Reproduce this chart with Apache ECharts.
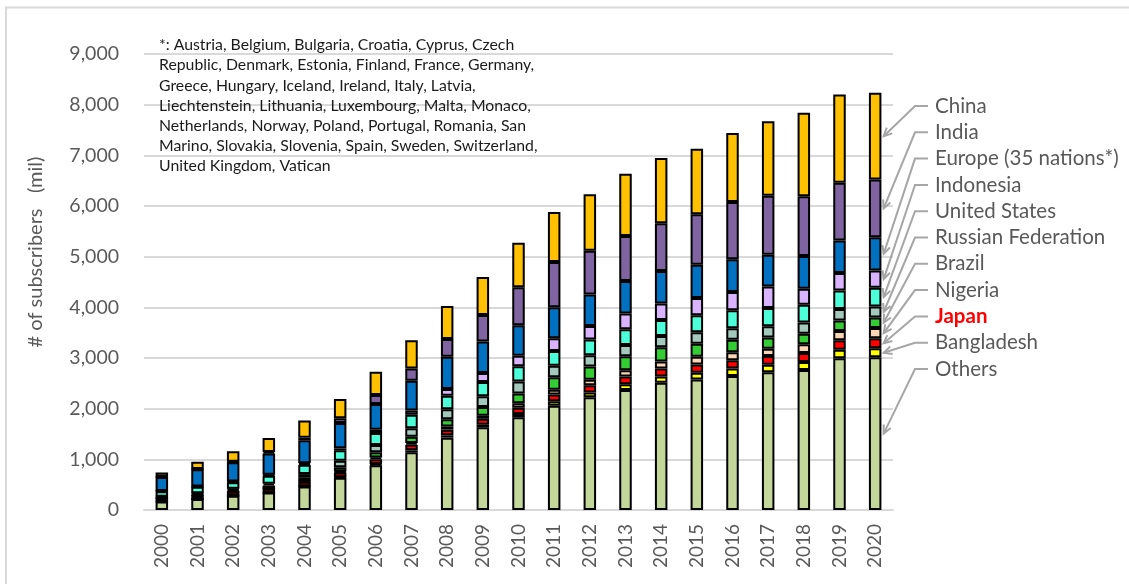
<!DOCTYPE html>
<html>
<head>
<meta charset="utf-8">
<script src="https://cdn.jsdelivr.net/npm/echarts@6/dist/echarts.min.js"></script>
<style>
  html, body { margin: 0; padding: 0; background: #fff; }
  #chart { width: 1129px; height: 584px; }
</style>
</head>
<body>
<div id="chart"></div>
<script>
// ---- data (million subscribers) ----
const years = ['2000', '2001', '2002', '2003', '2004', '2005', '2006', '2007', '2008', '2009', '2010',
  '2011', '2012', '2013', '2014', '2015', '2016', '2017', '2018', '2019', '2020'];

const others     = [170, 216, 282, 347, 465, 635, 884, 1138, 1428, 1632, 1829, 2059, 2224, 2368, 2513, 2577, 2643, 2721, 2761, 2997, 3016];
const bangladesh = [0.3, 0.5, 1, 1.4, 4, 9, 19, 40, 46, 52, 68, 85, 97, 115, 121, 131, 150, 145, 160, 166, 176];
const japan      = [67, 75, 80, 86, 91, 95, 101, 110, 112, 116, 121, 135, 141, 150, 158, 165, 164, 172, 180, 186, 196];
const nigeria    = [0.03, 0.9, 2, 3, 9, 19, 30, 35, 63, 62, 87, 95, 110, 125, 139, 151, 158, 145, 170, 184, 205];
const brazil     = [23, 29, 35, 46, 66, 86, 105, 125, 140, 170, 196, 244, 262, 275, 280, 257, 244, 223, 207, 207, 205];
const russia     = [3, 8, 18, 36, 74, 126, 145, 165, 200, 215, 235, 230, 220, 222, 221, 227, 227, 220, 225, 229, 220];
const usa        = [109, 128, 131, 157, 182, 207, 235, 265, 265, 280, 300, 290, 310, 310, 320, 335, 354, 361, 347, 361, 367];
const indonesia  = [4, 6, 12, 18, 30, 40, 64, 85, 135, 175, 210, 250, 270, 315, 325, 340, 361, 426, 315, 347, 341];
const europe     = [275, 340, 380, 420, 455, 500, 510, 590, 638, 625, 600, 615, 620, 640, 640, 655, 649, 623, 649, 643, 656];
const india      = [4, 6, 13, 30, 48, 95, 175, 240, 349, 520, 752, 894, 865, 887, 944, 1001, 1127, 1168, 1176, 1141, 1141];
const china      = [85, 145, 206, 275, 340, 380, 460, 555, 651, 750, 875, 986, 1112, 1229, 1286, 1292, 1364, 1470, 1649, 1738, 1711];

const yTicks = { min: 0, max: 9000, interval: 1000 };

// bottom → top of the stack
const stackOrder = [
  { name: 'Others', data: others, color: '#c4d79b' },
  { name: 'Bangladesh', data: bangladesh, color: '#ffff00' },
  { name: 'Japan', data: japan, color: '#ff0000' },
  { name: 'Nigeria', data: nigeria, color: '#fcd5b4' },
  { name: 'Brazil', data: brazil, color: '#33cc33' },
  { name: 'Russian Federation', data: russia, color: '#a3c9bd' },
  { name: 'United States', data: usa, color: '#4dffd8' },
  { name: 'Indonesia', data: indonesia, color: '#dab3ff' },
  { name: 'Europe (35 nations*)', data: europe, color: '#0070c0' },
  { name: 'India', data: india, color: '#8064a2' },
  { name: 'China', data: china, color: '#ffc000' },
];

const footnote = [
  '*: Austria, Belgium, Bulgaria, Croatia, Cyprus, Czech',
  'Republic, Denmark, Estonia, Finland, France, Germany,',
  'Greece, Hungary, Iceland, Ireland, Italy, Latvia,',
  'Liechtenstein, Lithuania, Luxembourg, Malta, Monaco,',
  'Netherlands, Norway, Poland, Portugal, Romania, San',
  'Marino, Slovakia, Slovenia, Spain, Sweden, Switzerland,',
  'United Kingdom, Vatican',
];

const FONT = 'Lato, "Liberation Sans", sans-serif';
const GREY_TXT = '#595959';
const ARROW = '#a6a6a6';

// ---- chart ----
const chart = echarts.init(document.getElementById('chart'), null, { renderer: 'canvas' });

chart.setOption({
  backgroundColor: '#fff',
  animation: false,
  grid: { left: 144, right: 236, top: 54, bottom: 74, containLabel: false },
  xAxis: {
    type: 'category',
    data: years,
    axisLine: { lineStyle: { color: '#d9d9d9', width: 2 } },
    axisTick: { show: false },
    axisLabel: { rotate: 90, color: GREY_TXT, fontFamily: FONT, fontSize: 19, margin: 14 },
  },
  yAxis: {
    type: 'value',
    min: yTicks.min,
    max: yTicks.max,
    interval: yTicks.interval,
    axisLine: { show: false },
    axisTick: { show: false },
    splitLine: { lineStyle: { color: '#d9d9d9', width: 2 } },
    axisLabel: {
      color: GREY_TXT, fontFamily: FONT, fontSize: 19.5, margin: 25,
      formatter: (v) => v.toLocaleString('en-US'),
    },
  },
  series: stackOrder.map(s => ({
    name: s.name,
    type: 'bar',
    stack: 'total',
    barWidth: 12.5,
    data: s.data,
    itemStyle: { color: s.color, borderColor: '#000', borderWidth: 2 },
  })),
});

// ---- annotations: footnote, y title, labels with leader arrows ----
const graphics = [];

// partial outer frame (only top & left edges visible)
graphics.push({
  type: 'rect', silent: true,
  shape: { x: 6, y: 7.5, width: 1400, height: 800 },
  style: { fill: null, stroke: '#d9d9d9', lineWidth: 2 },
});

graphics.push({
  type: 'text', left: 159, top: 35, silent: true,
  style: {
    text: footnote.join('\n'),
    font: '15.8px ' + FONT, fill: '#1a1a1a', lineHeight: 20.2,
  },
});

graphics.push({
  type: 'text', x: 36, y: 252, rotation: Math.PI / 2, silent: true,
  style: {
    text: '# of subscribers   (mil)',
    font: '20px ' + FONT, fill: GREY_TXT, align: 'center', verticalAlign: 'middle',
  },
});

const lastIdx = years.length - 1;
const legendTop = 106, legendStep = 26.3;
const legendOrder = stackOrder.slice().reverse();
let cum = 0;
const mids = {};
stackOrder.forEach(s => {
  const v = s.data[lastIdx];
  mids[s.name] = cum + v / 2;
  cum += v;
});

legendOrder.forEach((s, i) => {
  const rowY = legendTop + i * legendStep;
  const isJapan = s.name === 'Japan';
  graphics.push({
    type: 'text', x: 935, y: rowY, silent: true,
    style: {
      text: s.name,
      font: (isJapan ? 'bold ' : '') + '20.5px ' + FONT,
      fill: isJapan ? '#ff0000' : GREY_TXT,
      verticalAlign: 'middle',
    },
  });

  const p = chart.convertToPixel({ xAxisIndex: 0, yAxisIndex: 0 }, [years[lastIdx], mids[s.name]]);
  const tipX = p[0] + 8.5, tipY = p[1];
  const bendX = 915;
  graphics.push({
    type: 'polyline', silent: true,
    shape: { points: [[928, rowY], [bendX, rowY], [tipX, tipY]] },
    style: { stroke: ARROW, lineWidth: 2, fill: null },
  });
  // open arrowhead
  const ang = Math.atan2(rowY - tipY, bendX - tipX);
  const len = 9, spread = 0.45;
  graphics.push({
    type: 'polyline', silent: true,
    shape: {
      points: [
        [tipX + len * Math.cos(ang - spread), tipY + len * Math.sin(ang - spread)],
        [tipX, tipY],
        [tipX + len * Math.cos(ang + spread), tipY + len * Math.sin(ang + spread)],
      ],
    },
    style: { stroke: ARROW, lineWidth: 2, fill: null },
  });
});

chart.setOption({ graphic: graphics });
</script>
</body>
</html>
